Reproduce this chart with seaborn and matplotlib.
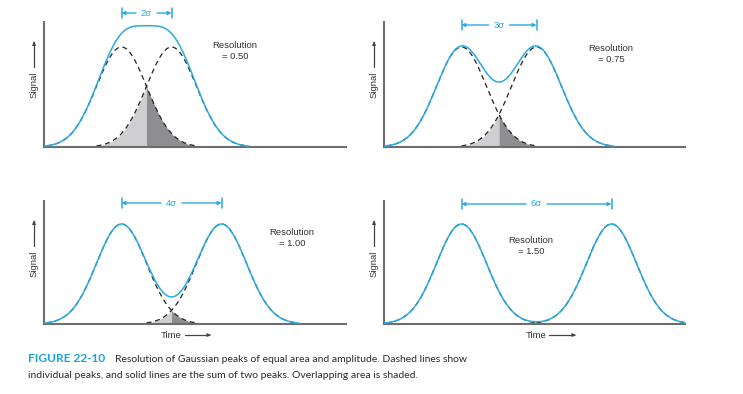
import numpy as np
import pandas as pd
import seaborn as sns
import matplotlib.pyplot as plt

# Gaussian peaks of equal area and amplitude (units of sigma)
separations = [2, 3, 4, 6]
sep_labels = ['2σ', '3σ', '4σ', '6σ']
resolutions = ['0.50', '0.75', '1.00', '1.50']
first_peak = 3.1
show_time = [False, False, True, True]

BLUE = '#29aae1'
AX_GRAY = '#6e6e6e'
LIGHT = '#cfcfd1'
DARK = '#8e8e92'
W, H = 743, 394

sns.set_theme(style='white')
plt.rcParams['font.family'] = ['Liberation Sans', 'DejaVu Sans']

fig = plt.figure(figsize=(W / 100, H / 100), dpi=100)

# panel boxes in pixels: left, right, top, baseline
boxes = [(44, 346, 22, 147), (384, 685, 22, 147),
         (44, 346, 201, 324), (384, 685, 201, 324)]
res_pos = [(7.64, 1.06), (9.08, 1.03), (9.92, 0.96), (5.88, 0.88)]
bracket_y = [1.34, 1.22, 1.21, 1.20]


def gauss(x, mu):
    return np.exp(-0.5 * (x - mu) ** 2)


for i, (sep, lab, res) in enumerate(zip(separations, sep_labels, resolutions)):
    l, r, t, b = boxes[i]
    ax = fig.add_axes([l / W, 1 - b / H, (r - l) / W, (b - t) / H])
    xmax = (r - l) / 25
    ax.set_xlim(0, xmax)
    ax.set_ylim(0, (b - t) / 100)

    mu1, mu2 = first_peak, first_peak + sep
    x = np.linspace(mu1 - 3.1, min(mu2 + 3.1, xmax), 600)
    df = pd.DataFrame({'Time': x, 'Signal': gauss(x, mu1) + gauss(x, mu2)})

    # overlap shading
    lo, hi = mu2 - 3, mu1 + 3
    if hi > lo:
        mid = (mu1 + mu2) / 2
        xl = np.linspace(lo, mid, 200)
        xr = np.linspace(mid, hi, 200)
        ax.fill_between(xl, 0, gauss(xl, mu2), color=LIGHT, lw=0, zorder=1)
        ax.fill_between(xr, 0, gauss(xr, mu1), color=DARK, lw=0, zorder=1)

    # individual peaks
    for mu in (mu1, mu2):
        xd = np.linspace(mu - 3, mu + 3, 300)
        sns.lineplot(x=xd, y=gauss(xd, mu), ax=ax, color='#222222',
                     linewidth=0.9, linestyle=(0, (4, 3)), zorder=2)

    sns.lineplot(data=df, x='Time', y='Signal', ax=ax, color=BLUE,
                 linewidth=1.1, zorder=3)

    for s in ['top', 'right']:
        ax.spines[s].set_visible(False)
    for s in ['left', 'bottom']:
        ax.spines[s].set_color(AX_GRAY)
        ax.spines[s].set_linewidth(1.5)
    ax.set_xticks([])
    ax.set_yticks([])
    ax.set_xlabel('')
    ax.set_ylabel('')

    ax.text(res_pos[i][0], res_pos[i][1], f'Resolution\n= {res}', ha='center',
            va='top', fontsize=6.8, color='#333333', linespacing=1.3)

    # separation bracket
    by = bracket_y[i]
    gap = 0.42
    for xe in (mu1, mu2):
        ax.plot([xe, xe], [by - 0.05, by + 0.05], color=BLUE, lw=1.1, clip_on=False)
    mid = (mu1 + mu2) / 2
    arrow = dict(arrowstyle='-|>', color=BLUE, lw=1.0, mutation_scale=5,
                 shrinkA=0, shrinkB=0)
    ax.annotate('', xy=(mu1, by), xytext=(mid - gap, by), arrowprops=arrow,
                annotation_clip=False)
    ax.annotate('', xy=(mu2, by), xytext=(mid + gap, by), arrowprops=arrow,
                annotation_clip=False)
    ax.text(mid, by, lab, ha='center', va='center', fontsize=6.8, color=BLUE,
            clip_on=False)

    # Signal label with arrow
    sx = (l - 10) / W
    fig.text(sx, 1 - (t + 63) / H, 'Signal', rotation=90, ha='center',
             va='center', fontsize=6.8, color='#333333')
    fig.add_artist(plt.Line2D([sx, sx], [1 - (t + 45) / H, 1 - (t + 20) / H],
                              color='#444444', lw=0.9))
    fig.add_artist(plt.Polygon([[sx - 2 / W, 1 - (t + 24) / H],
                                [sx + 2 / W, 1 - (t + 24) / H],
                                [sx, 1 - (t + 19) / H]], color='#444444', lw=0))

    if show_time[i]:
        tx = (l + (mid * 25)) / W
        fig.text(tx, 1 - 335 / H, 'Time', ha='center', va='center',
                 fontsize=6.8, color='#333333')
        x0, x1 = tx + 13 / W, tx + 40 / W
        fig.add_artist(plt.Line2D([x0, x1 - 3 / W], [1 - 335 / H] * 2,
                                  color='#444444', lw=0.9))
        fig.add_artist(plt.Polygon([[x1 - 5 / W, 1 - 333 / H],
                                    [x1 - 5 / W, 1 - 337 / H],
                                    [x1, 1 - 335 / H]], color='#444444', lw=0))

# caption
cap_font = ['Lato', 'DejaVu Sans']
fig.text(28 / W, 1 - 362 / H, 'FIGURE 22-10', fontsize=8.6, fontweight='bold',
         color='#1aa3e0', va='baseline', family=cap_font)
fig.text(115 / W, 1 - 362 / H,
         'Resolution of Gaussian peaks of equal area and amplitude. Dashed lines show',
         fontsize=7.45, color='#2a2a2a', va='baseline', family=cap_font)
fig.text(28 / W, 1 - 378 / H,
         'individual peaks, and solid lines are the sum of two peaks. Overlapping area is shaded.',
         fontsize=7.45, color='#2a2a2a', va='baseline', family=cap_font)

fig.savefig('out.png', dpi=100)
